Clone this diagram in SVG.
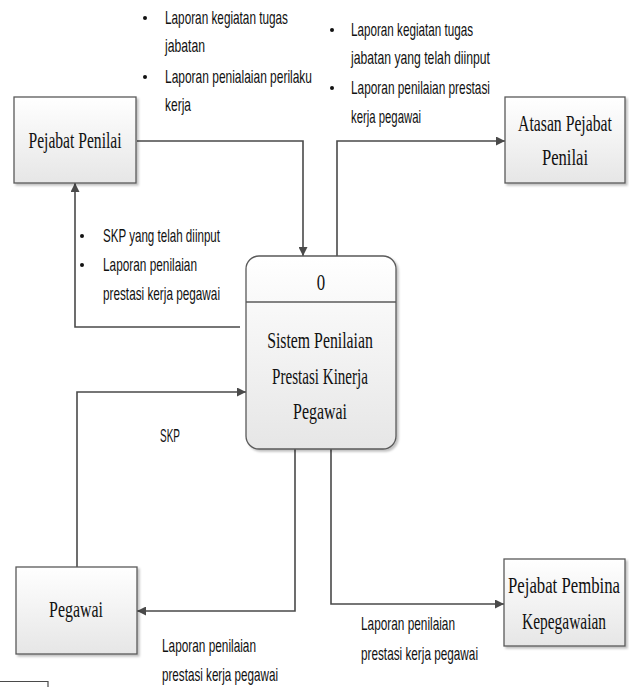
<svg xmlns="http://www.w3.org/2000/svg" width="629" height="687" viewBox="0 0 629 687">
  <style>
    .box { fill: url(#boxFill); stroke: #5a5a5a; stroke-width: 1.3; filter: url(#shadow); }
    .node { font-family: "Liberation Serif", "Times New Roman", serif; font-size: 24px; fill: #111; text-anchor: middle; }
    .lbl { font-family: "Liberation Sans", Arial, sans-serif; font-size: 18.5px; fill: #111; }
    .flow { fill: none; stroke: #4a4a4a; stroke-width: 1.6; }
    .dot { fill: #111; }
  </style>
  <defs>
    <linearGradient id="boxFill" x1="0" y1="0" x2="0" y2="1">
      <stop offset="0" stop-color="#ffffff"/>
      <stop offset="1" stop-color="#e6e6e6"/>
    </linearGradient>
    <filter id="shadow" x="-10%" y="-10%" width="125%" height="125%">
      <feDropShadow dx="2" dy="2" stdDeviation="1.2" flood-color="#000" flood-opacity="0.25"/>
    </filter>
    <marker id="arrow" viewBox="0 0 10 10" refX="10" refY="5" markerWidth="9" markerHeight="9" markerUnits="userSpaceOnUse" orient="auto">
      <path d="M0,0 L10,5 L0,10 z" fill="#4a4a4a"/>
    </marker>
  </defs>

  <!-- connectors -->
  <g id="connectors">
    <path class="flow" d="M137,141 H303 V256" marker-end="url(#arrow)"/>
    <path class="flow" d="M337,256 V141 H505" marker-end="url(#arrow)"/>
    <path class="flow" d="M240,327 H75 V183" marker-end="url(#arrow)"/>
    <path class="flow" d="M77,567 V392 H246" marker-end="url(#arrow)"/>
    <path class="flow" d="M295,449 V611 H137" marker-end="url(#arrow)"/>
    <path class="flow" d="M331,449 V604 H504" marker-end="url(#arrow)"/>
    <path fill="none" stroke="#4a4a4a" stroke-width="1.2" d="M0,681.5 H48 V687"/>
  </g>

  <!-- external entities (serif labels are narrowed horizontally) -->
  <g id="pejabat-penilai">
    <rect class="box" x="14" y="97" width="122" height="86"/>
    <text class="node" transform="translate(75 148) scale(0.7 1)" textLength="133" lengthAdjust="spacingAndGlyphs">Pejabat Penilai</text>
  </g>
  <g id="atasan-pejabat-penilai">
    <rect class="box" x="505" y="97" width="120" height="86"/>
    <text class="node" transform="translate(565 131) scale(0.7 1)" textLength="134" lengthAdjust="spacingAndGlyphs">Atasan Pejabat</text>
    <text class="node" transform="translate(565 165) scale(0.7 1)" textLength="66" lengthAdjust="spacingAndGlyphs">Penilai</text>
  </g>
  <g id="pegawai">
    <rect class="box" x="16" y="567" width="121" height="87"/>
    <text class="node" transform="translate(76 617) scale(0.7 1)" textLength="77" lengthAdjust="spacingAndGlyphs">Pegawai</text>
  </g>
  <g id="pejabat-pembina">
    <rect class="box" x="504" y="559" width="121" height="87"/>
    <text class="node" transform="translate(564 593) scale(0.7 1)" textLength="160" lengthAdjust="spacingAndGlyphs">Pejabat Pembina</text>
    <text class="node" transform="translate(564 629) scale(0.7 1)" textLength="120" lengthAdjust="spacingAndGlyphs">Kepegawaian</text>
  </g>

  <!-- process -->
  <g id="process-0">
    <rect class="box" x="246" y="256" width="150" height="193" rx="13" ry="13"/>
    <line x1="246" y1="302" x2="396" y2="302" stroke="#5a5a5a" stroke-width="1.3"/>
    <text class="node" transform="translate(321 290) scale(0.7 1)">0</text>
    <text class="node" transform="translate(320 348) scale(0.7 1)" textLength="151" lengthAdjust="spacingAndGlyphs">Sistem Penilaian</text>
    <text class="node" transform="translate(320 384) scale(0.7 1)" textLength="137" lengthAdjust="spacingAndGlyphs">Prestasi Kinerja</text>
    <text class="node" transform="translate(320 419) scale(0.7 1)" textLength="77" lengthAdjust="spacingAndGlyphs">Pegawai</text>
  </g>

  <!-- flow labels -->
  <g id="labels">
    <circle class="dot" cx="145" cy="18" r="2"/>
    <text class="lbl" x="165" y="24" textLength="123" lengthAdjust="spacingAndGlyphs">Laporan kegiatan tugas</text>
    <text class="lbl" x="165" y="52" textLength="40" lengthAdjust="spacingAndGlyphs">jabatan</text>
    <circle class="dot" cx="145" cy="77" r="2"/>
    <text class="lbl" x="165" y="83" textLength="147" lengthAdjust="spacingAndGlyphs">Laporan penialaian perilaku</text>
    <text class="lbl" x="165" y="111" textLength="26" lengthAdjust="spacingAndGlyphs">kerja</text>

    <circle class="dot" cx="332" cy="30" r="2"/>
    <text class="lbl" x="351" y="36" textLength="122" lengthAdjust="spacingAndGlyphs">Laporan kegiatan tugas</text>
    <text class="lbl" x="351" y="64" textLength="139" lengthAdjust="spacingAndGlyphs">jabatan yang telah diinput</text>
    <circle class="dot" cx="332" cy="88" r="2"/>
    <text class="lbl" x="351" y="94" textLength="139" lengthAdjust="spacingAndGlyphs">Laporan penilaian prestasi</text>
    <text class="lbl" x="351" y="123" textLength="70" lengthAdjust="spacingAndGlyphs">kerja pegawai</text>

    <circle class="dot" cx="82" cy="236" r="2"/>
    <text class="lbl" x="103" y="242" textLength="117" lengthAdjust="spacingAndGlyphs">SKP yang telah diinput</text>
    <circle class="dot" cx="82" cy="265" r="2"/>
    <text class="lbl" x="103" y="271" textLength="94" lengthAdjust="spacingAndGlyphs">Laporan penilaian</text>
    <text class="lbl" x="103" y="300" textLength="117" lengthAdjust="spacingAndGlyphs">prestasi kerja pegawai</text>

    <text class="lbl" x="160" y="442" textLength="20" lengthAdjust="spacingAndGlyphs">SKP</text>

    <text class="lbl" x="162" y="652" textLength="94" lengthAdjust="spacingAndGlyphs">Laporan penilaian</text>
    <text class="lbl" x="162" y="681" textLength="116" lengthAdjust="spacingAndGlyphs">prestasi kerja pegawai</text>

    <text class="lbl" x="361" y="630" textLength="94" lengthAdjust="spacingAndGlyphs">Laporan penilaian</text>
    <text class="lbl" x="361" y="660" textLength="117" lengthAdjust="spacingAndGlyphs">prestasi kerja pegawai</text>
  </g>
</svg>
